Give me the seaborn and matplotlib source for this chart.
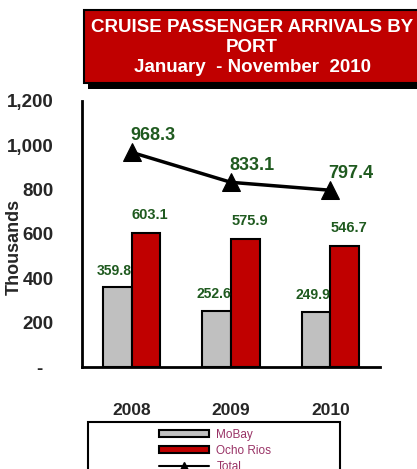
import pandas as pd
import matplotlib
matplotlib.use("Agg")
import matplotlib.pyplot as plt
import seaborn as sns
from matplotlib.patches import Rectangle, Patch
from matplotlib.lines import Line2D

# Data (thousands of passengers)
years = ["2008", "2009", "2010"]
mobay = [359.8, 252.6, 249.9]
ocho_rios = [603.1, 575.9, 546.7]
total = [968.3, 833.1, 797.4]
ports = ["MoBay", "Ocho Rios"]
y_ticks = [0, 200, 400, 600, 800, 1000, 1200]
y_tick_labels = ["-  ", "200", "400", "600", "800", "1,000", "1,200"]

GREY = "#C0C0C0"
RED = "#C00000"
GREEN = "#1F5A1F"
MAUVE = "#993366"

sns.set_style("white")
plt.rcParams["font.family"] = ["Liberation Sans", "DejaVu Sans"]

df = pd.DataFrame({
    "Year": years * 2,
    "Value": mobay + ocho_rios,
    "Port": [ports[0]] * 3 + [ports[1]] * 3,
})

W, H = 417, 469
fig = plt.figure(figsize=(W / 100, H / 100), dpi=100)
ax = fig.add_axes([82 / W, 102 / H, 298 / W, 266 / H])

sns.barplot(data=df, x="Year", y="Value", hue="Port", palette=[GREY, RED],
            saturation=1, width=0.58, edgecolor="black", linewidth=1.5,
            ax=ax, legend=False)
sns.lineplot(x=[0, 1, 2], y=total, color="black", linewidth=2.5, marker="^",
             markersize=13, markeredgecolor="black", ax=ax, legend=False)

ax.set_xlim(-0.5, 2.5)
ax.set_ylim(0, 1200)
ax.set_xlabel("")
ax.set_ylabel("")

# value labels
for i in range(3):
    ax.annotate(f"{mobay[i]:.1f}", (i - 0.145, mobay[i]), xytext=(-2, 7),
                textcoords="offset points", ha="center", va="bottom",
                fontsize=10, fontweight="bold", color=GREEN)
    ax.annotate(f"{ocho_rios[i]:.1f}", (i + 0.145, ocho_rios[i]), xytext=(3, 8),
                textcoords="offset points", ha="center", va="bottom",
                fontsize=10.5, fontweight="bold", color=GREEN)
    ax.annotate(f"{total[i]:.1f}", (i, total[i]), xytext=(15, 6),
                textcoords="offset points", ha="center", va="bottom",
                fontsize=13, fontweight="bold", color=GREEN)

# axes styling
ax.set_yticks(y_ticks)
ax.set_yticklabels(y_tick_labels, fontsize=13.5, fontweight="bold")
ax.tick_params(axis="y", direction="inout", length=9, width=1.5, pad=16)
ax.set_xticks([0, 1, 2])
ax.set_xticklabels(years, fontsize=12.5, fontweight="bold")
ax.tick_params(axis="x", which="major", length=0, pad=26)
ax.set_xticks([-0.5, 0.5, 1.5, 2.5], minor=True)
ax.tick_params(axis="x", which="minor", direction="inout", length=9, width=1.5)
for s in ["top", "right"]:
    ax.spines[s].set_visible(False)
for s in ["left", "bottom"]:
    ax.spines[s].set_linewidth(2)
    ax.spines[s].set_color("black")

fig.text(14 / W, 1 - 247 / H, "Thousands", rotation=90, ha="center", va="center",
         fontsize=13, fontweight="bold")

# title box
fig.patches.append(Rectangle((88 / W, 1 - 89 / H), 340 / W, 79 / H,
                             transform=fig.transFigure, facecolor="black",
                             edgecolor="none", zorder=1))
fig.patches.append(Rectangle((84 / W, 1 - 83 / H), 340 / W, 73 / H,
                             transform=fig.transFigure, facecolor=RED,
                             edgecolor="black", linewidth=1.5, zorder=2))
title_kw = dict(ha="center", va="center", color="white", fontweight="bold",
                fontsize=13.5, zorder=3)
fig.text(252 / W, 1 - 27 / H, "CRUISE PASSENGER ARRIVALS BY", **title_kw)
fig.text(252 / W, 1 - 47 / H, "PORT", **title_kw)
fig.text(252 / W, 1 - 68 / H, "January  - November  2010", **title_kw)

# legend box
fig.patches.append(Rectangle((88 / W, 1 - 480 / H), 252 / W, 58 / H,
                             transform=fig.transFigure, facecolor="white",
                             edgecolor="black", linewidth=1.5))
handles = [
    Patch(facecolor=GREY, edgecolor="black", linewidth=1.5),
    Patch(facecolor=RED, edgecolor="black", linewidth=1.5),
    Line2D([0], [0], color="black", linewidth=1.5, marker="^", markersize=6),
]
leg = fig.legend(handles, ["MoBay", "Ocho Rios", "Total"], loc="upper left",
                 bbox_to_anchor=(148 / W, 1 - 418 / H), frameon=False,
                 fontsize=8.5, handlelength=4.3, handleheight=0.6,
                 handletextpad=0.6, labelspacing=0.35, borderpad=0.4)
for t in leg.get_texts():
    t.set_color(MAUVE)

fig.savefig("out.png", dpi=100)
